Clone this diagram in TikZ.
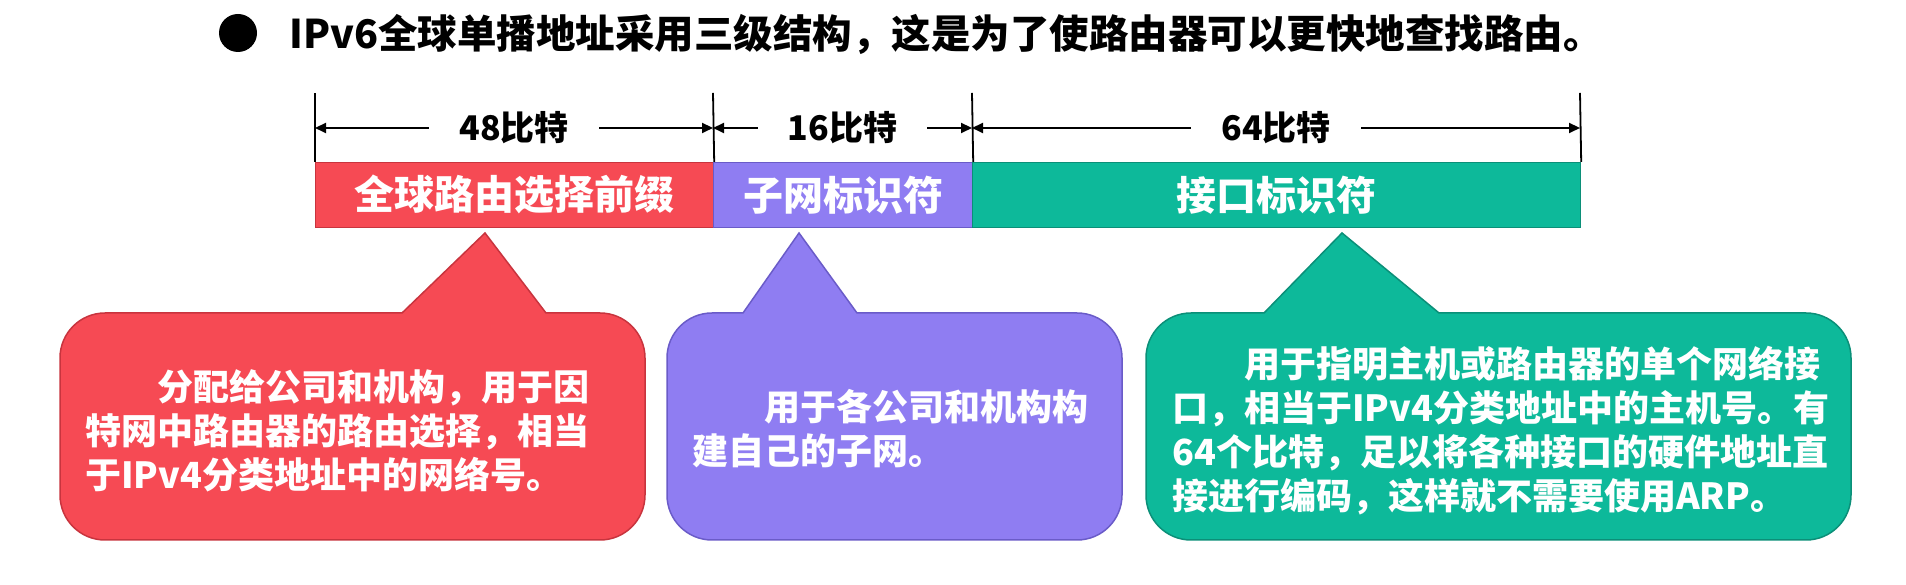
\documentclass[tikz,border=0pt]{standalone}
\usepackage{fontspec}
\setmainfont{Noto Sans CJK SC}
\usetikzlibrary{arrows.meta}
\definecolor{redF}{HTML}{F64A54}
\definecolor{redD}{HTML}{C8343E}
\definecolor{purF}{HTML}{8F7DF2}
\definecolor{purD}{HTML}{6A5BC8}
\definecolor{grnF}{HTML}{0DB99A}
\definecolor{grnD}{HTML}{0B8F78}
\newcommand\calloutpath[8]{%
  \draw[#1] (#6,#5) -- (#8,352) -- (#7,#5) -- ({#3-45},#5)
    arc[start angle=90,end angle=0,radius=45] -- (#3,{#4+45})
    arc[start angle=0,end angle=-90,radius=45] -- ({#2+45},#4)
    arc[start angle=270,end angle=180,radius=45] -- (#2,{#5-45})
    arc[start angle=180,end angle=90,radius=45] -- cycle;}
\begin{document}
\begin{tikzpicture}[x=1pt,y=1pt,
  seg/.style={rectangle, inner sep=0pt, minimum height=65pt, anchor=south west,
    text=white, font=\fontsize{40}{44}\selectfont\bfseries, line width=1.2pt},
  dim/.style={{Triangle[length=11pt,width=10pt]}-{Triangle[length=11pt,width=10pt]}, line width=2pt},
  dimlabel/.style={fill=white, inner xsep=30pt, inner ysep=2pt, font=\fontsize{34}{38}\selectfont\bfseries},
  tickline/.style={line width=1.8pt},
  callout/.style={line width=1.5pt},
  ctext/.style={align=left, inner sep=0pt, anchor=west, text=white,
    font=\fontsize{36}{44}\selectfont\bfseries}]
\useasboundingbox (0,0) rectangle (1906,585);
% title
\node[circle, fill=black, minimum size=38pt, inner sep=0pt] (bul) at (238,552) {};
\node[anchor=west, inner sep=0pt, font=\fontsize{39.5}{44}\selectfont\bfseries] (title) at (289,551)
  {IPv6全球单播地址采用三级结构，这是为了使路由器可以更快地查找路由。};
% bar
\node[seg, fill=redF, draw=redD, minimum width=398pt] (s1) at (315,357) {全球路由选择前缀};
\node[seg, fill=purF, draw=purD, minimum width=259pt] (s2) at (713,357) {子网标识符};
\node[seg, fill=grnF, draw=grnD, minimum width=608pt] (s3) at (972,357) {接口标识符};
% ticks
\coordinate (t0) at (315,492);
\coordinate (t1) at (713,492);
\coordinate (t2) at (972,492);
\coordinate (t3) at (1580,492);
\draw[tickline] (s1.north west) -- (t0);
\draw[tickline] (s1.north east) -- (t1);
\draw[tickline] (s2.north east) -- (t2);
\draw[tickline] (s3.north east) -- (t3);
\coordinate (a0) at (315,457);
\coordinate (a1) at (713,457);
\coordinate (a2) at (972,457);
\coordinate (a3) at (1580,457);
\draw[dim] (a0) -- (a1) node[dimlabel, pos=0.5] (l1) {48比特};
\draw[dim] (a1) -- (a2) node[dimlabel, pos=0.5] (l2) {16比特};
\draw[dim] (a2) -- (a3) node[dimlabel, pos=0.5] (l3) {64比特};
% callouts
\calloutpath{callout, fill=redF, draw=redD}{60}{645}{45}{272}{402}{546}{485}
\calloutpath{callout, fill=purF, draw=purD}{667}{1122}{45}{272}{743}{857}{799}
\calloutpath{callout, fill=grnF, draw=grnD}{1146}{1851}{45}{272}{1264}{1439}{1342}
\node[ctext] (c1) at (85,154) {\hspace*{2em}分配给公司和机构，用于因\\特网中路由器的路由选择，相当\\于IPv4分类地址中的网络号。};
\node[ctext] (c2) at (692,156) {\hspace*{2em}用于各公司和机构构\\建自己的子网。};
\node[ctext] (c3) at (1172,154) {\hspace*{2em}用于指明主机或路由器的单个网络接\\口，相当于IPv4分类地址中的主机号。有\\64个比特，足以将各种接口的硬件地址直\\接进行编码，这样就不需要使用ARP。};
\end{tikzpicture}
\end{document}
